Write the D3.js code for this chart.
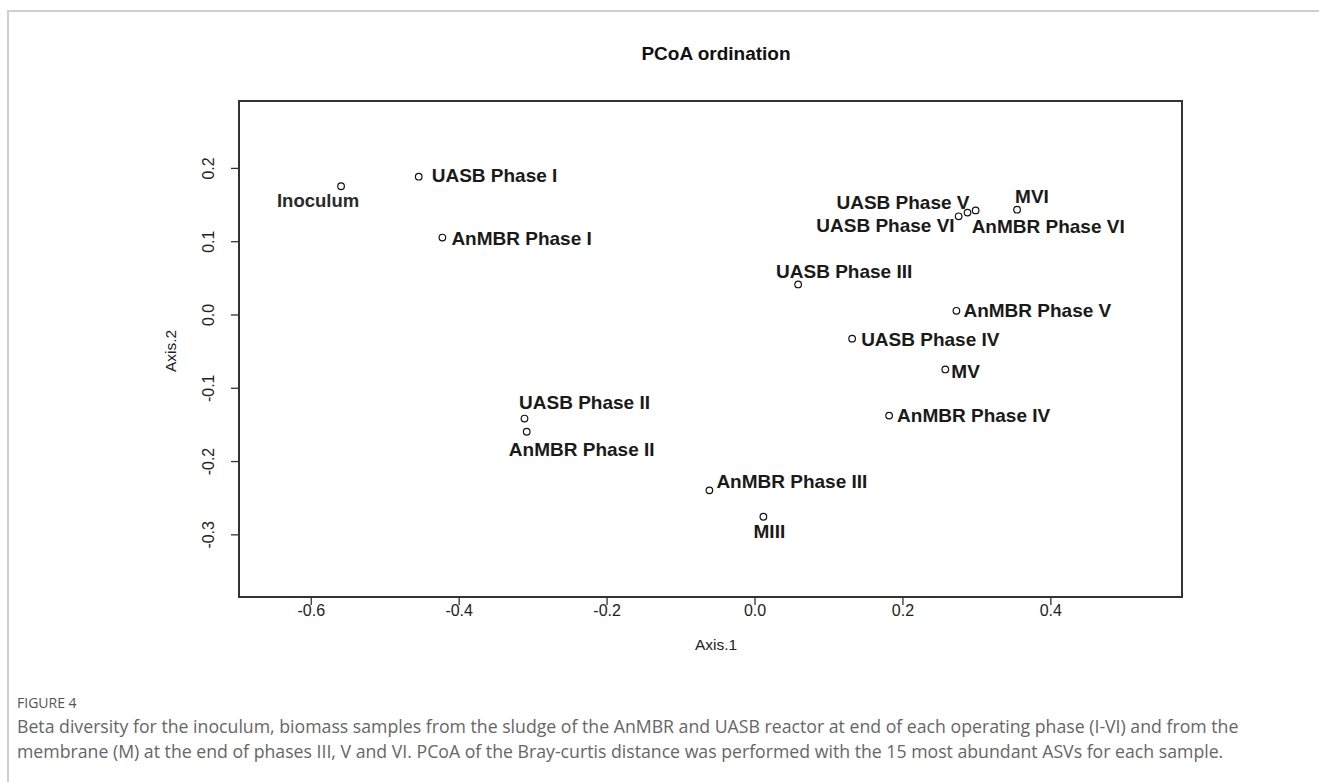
<!DOCTYPE html>
<html><head><meta charset="utf-8">
<script src="https://cdn.jsdelivr.net/npm/d3@7"></script>
<style>
html,body{margin:0;padding:0;background:#fff;}
svg{display:block;}
</style></head>
<body>
<svg id="chart" width="1319" height="782"></svg>
<script>
// ---- data ----
const samples = ["Inoculum","UASB Phase I","AnMBR Phase I","UASB Phase III","UASB Phase V","UASB Phase VI","AnMBR Phase VI","MVI","AnMBR Phase V","UASB Phase IV","MV","AnMBR Phase IV","UASB Phase II","AnMBR Phase II","AnMBR Phase III","MIII"];
const axis1 = [-0.559,-0.454,-0.422,0.059,0.288,0.276,0.299,0.355,0.273,0.132,0.258,0.182,-0.311,-0.308,-0.061,0.012];
const axis2 = [0.175,0.188,0.105,0.041,0.139,0.134,0.142,0.143,0.005,-0.033,-0.075,-0.138,-0.142,-0.160,-0.240,-0.276];
const xTicks = [-0.6,-0.4,-0.2,0.0,0.2,0.4];
const yTicks = [-0.3,-0.2,-0.1,0.0,0.1,0.2];
const title = "PCoA ordination";
const xTitle = "Axis.1", yTitle = "Axis.2";
const captionHead = "FIGURE 4";
const captionLines = [
 "Beta diversity for the inoculum, biomass samples from the sludge of the AnMBR and UASB reactor at end of each operating phase (I-VI) and from the",
 "membrane (M) at the end of phases III, V and VI. PCoA of the Bray-curtis distance was performed with the 15 most abundant ASVs for each sample."
];

// ---- drawing ----
const svg = d3.select("#chart");
const L=239, R=1182, T=101, B=597;
const x = d3.scaleLinear().domain([-0.697,0.578]).range([L,R]);
const y = d3.scaleLinear().domain([-0.3855,0.2913]).range([B,T]);
const fmt = d=>d3.format(".1f")(d).replace("\u2212","-");

// page border
svg.append("path").attr("d","M8,782 V11 H1319").attr("fill","none").attr("stroke","#cfcfcf").attr("stroke-width",2);

const font="Liberation Sans, Arial, sans-serif";
svg.append("text").attr("x",716).attr("y",53).attr("text-anchor","middle").attr("dominant-baseline","central")
 .attr("font-family",font).attr("font-weight","bold").attr("font-size",19).attr("fill","#111").text(title);

const xa = svg.append("g").attr("transform",`translate(0,${B})`)
 .call(d3.axisBottom(x).tickValues(xTicks).tickFormat(fmt).tickSize(8));
const ya = svg.append("g").attr("transform",`translate(${L},0)`)
 .call(d3.axisLeft(y).tickValues(yTicks).tickFormat(fmt).tickSize(8));
[xa,ya].forEach(g=>{
  g.select(".domain").remove();
  g.selectAll(".tick line").attr("stroke","#333").attr("stroke-width",1.3);
  g.selectAll(".tick text").attr("font-family",font).attr("font-size",16).attr("fill","#222");
});
xa.selectAll(".tick text").attr("y",13).attr("dy",null).attr("dominant-baseline","central");
ya.selectAll(".tick text").each(function(){
   d3.select(this).attr("x",null).attr("dy",null).attr("y",0).attr("text-anchor","middle")
    .attr("transform",`translate(-31,0) rotate(-90)`).attr("dominant-baseline","central");
 });

svg.append("rect").attr("x",L).attr("y",T).attr("width",R-L).attr("height",B-T)
 .attr("fill","none").attr("stroke","#333").attr("stroke-width",2);

svg.append("text").attr("x",716).attr("y",644).attr("text-anchor","middle").attr("dominant-baseline","central")
 .attr("font-family",font).attr("font-size",15.5).attr("fill","#222").text(xTitle);
svg.append("text").attr("transform",`translate(170,351) rotate(-90)`).attr("text-anchor","middle").attr("dominant-baseline","central")
 .attr("font-family",font).attr("font-size",15.5).attr("fill","#222").text(yTitle);

// label placement (anchor, dx, dy) in px
const place = {
 "Inoculum":["middle",-23,14],
 "UASB Phase I":["start",13,-1],
 "AnMBR Phase I":["start",9,1],
 "UASB Phase III":["middle",46,-13],
 "UASB Phase V":["end",2,-10],
 "UASB Phase VI":["end",-4,9],
 "AnMBR Phase VI":["start",-4,16],
 "MVI":["start",-2,-13],
 "AnMBR Phase V":["start",7,0],
 "UASB Phase IV":["start",9,1],
 "MV":["start",6,2],
 "AnMBR Phase IV":["start",8,0],
 "UASB Phase II":["middle",60,-16],
 "AnMBR Phase II":["middle",55,18],
 "AnMBR Phase III":["start",7,-9],
 "MIII":["middle",6,15]
};
const pts = samples.map((s,i)=>({name:s,a1:axis1[i],a2:axis2[i]}));
const g = svg.append("g");
g.selectAll("circle").data(pts).join("circle")
 .attr("cx",d=>x(d.a1)).attr("cy",d=>y(d.a2)).attr("r",3.3)
 .attr("fill","#fff").attr("stroke","#111").attr("stroke-width",1.2);
g.selectAll("text").data(pts).join("text")
 .attr("x",d=>x(d.a1)+place[d.name][1]).attr("y",d=>y(d.a2)+place[d.name][2])
 .attr("text-anchor",d=>place[d.name][0]).attr("dominant-baseline","central")
 .attr("font-family",font).attr("font-size",d=>d.name==="Inoculum"?18.5:19)
 .attr("font-weight","bold")
 .attr("fill",d=>d.name==="Inoculum"?"#2a2a2a":"#1a1a1a").text(d=>d.name);

// caption
svg.append("text").attr("x",17).attr("y",702).attr("dominant-baseline","central")
 .attr("font-family","Open Sans, sans-serif").attr("font-size",14).attr("fill","#555").text(captionHead);
captionLines.forEach((l,i)=>{
 svg.append("text").attr("x",17).attr("y",726+i*25).attr("dominant-baseline","central")
  .attr("font-family","Open Sans, sans-serif").attr("font-size",17.7).attr("fill","#666").text(l);
});
</script>
</body></html>
